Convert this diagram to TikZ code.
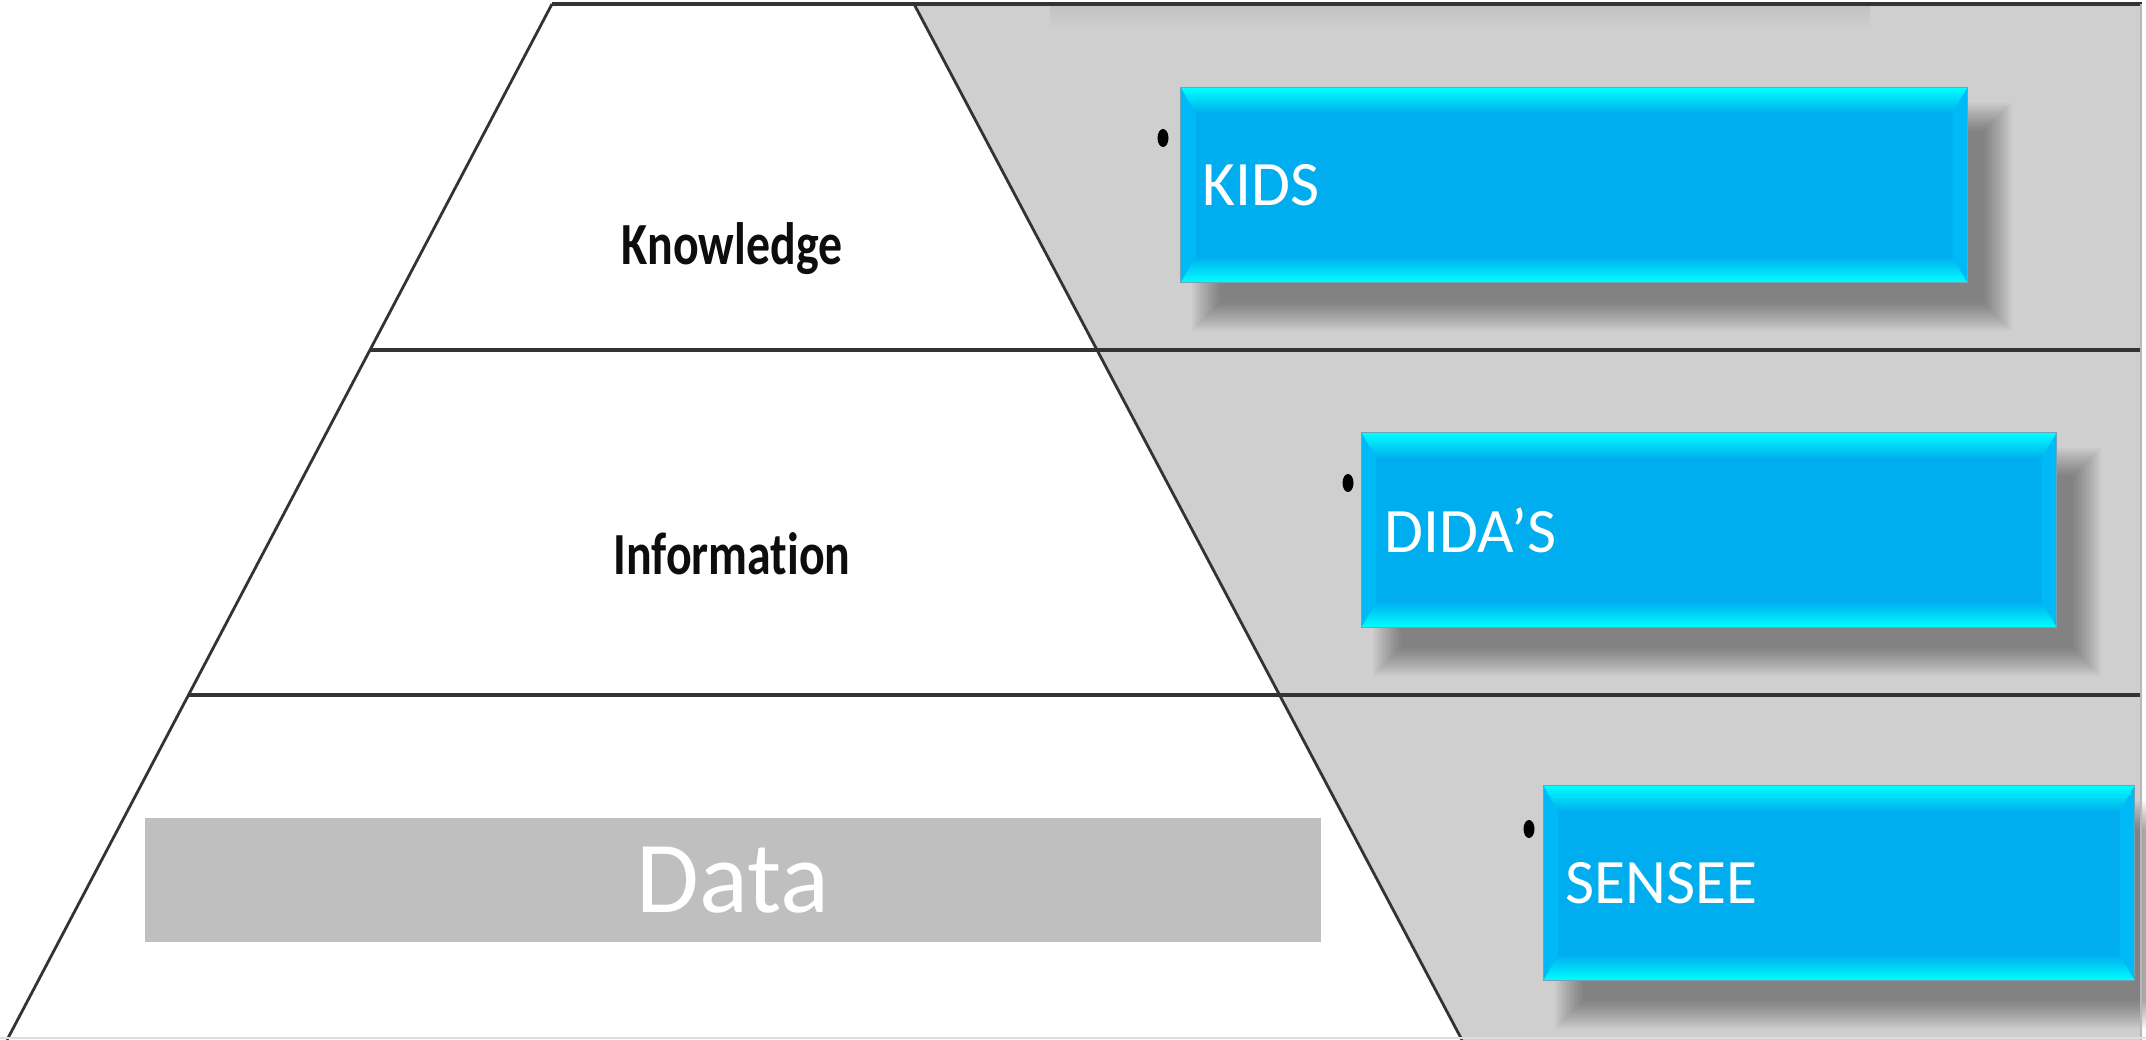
\documentclass[tikz,border=0pt]{standalone}
\usepackage{fontspec}
\setmainfont{Carlito}[Ligatures=NoCommon]
\usetikzlibrary{shapes.geometric, positioning, calc}
\definecolor{slabgray}{HTML}{CFCFCF}
\definecolor{datagray}{HTML}{BFBFBF}
\definecolor{edgegray}{HTML}{333333}
\definecolor{tagblue}{HTML}{00AEEF}
\definecolor{tagcyan}{HTML}{00FFFF}
\definecolor{tagside}{HTML}{00B9F7}
\pgfdeclarelayer{band}
\pgfdeclarelayer{shade}
\pgfsetlayers{band,shade,main}

\begin{document}
\begin{tikzpicture}[
  x=0.01cm, y=-0.01cm,
  edge/.style={draw=edgegray, line width=0.8pt},
  rule/.style={draw=edgegray, line width=1.1pt},
  tagbox/.style={rectangle, fill=tagblue, draw=gray!60!cyan, line width=0.3pt,
                 inner sep=0pt, minimum height=1.95cm,
                 path picture={
                   \coordinate (pNW) at (path picture bounding box.north west);
                   \coordinate (pNE) at (path picture bounding box.north east);
                   \coordinate (pSW) at (path picture bounding box.south west);
                   \coordinate (pSE) at (path picture bounding box.south east);
                   \fill[tagside] (pNW) -- ($(pNW)+(0.15cm,-0.26cm)$) -- ($(pSW)+(0.15cm,0.26cm)$) -- (pSW) -- cycle;
                   \fill[tagside] (pNE) -- ($(pNE)+(-0.15cm,-0.26cm)$) -- ($(pSE)+(-0.15cm,0.26cm)$) -- (pSE) -- cycle;
                   \shade[top color=tagcyan, middle color=tagcyan!45!tagblue, bottom color=tagblue]
                     (pNW) -- (pNE) -- ($(pNE)+(-0.15cm,-0.26cm)$) -- ($(pNW)+(0.15cm,-0.26cm)$) -- cycle;
                   \shade[bottom color=tagcyan, middle color=tagcyan!45!tagblue, top color=tagblue]
                     (pSW) -- (pSE) -- ($(pSE)+(-0.15cm,0.26cm)$) -- ($(pSW)+(0.15cm,0.26cm)$) -- cycle;
                 }},
  tagtext/.style={font=\fontsize{18}{20}\selectfont, text=white, inner sep=0pt},
  dot/.style={ellipse, fill=black, inner sep=0pt, minimum width=0.11cm, minimum height=0.18cm},
  level/.style={font=\bfseries\fontsize{17}{20}\selectfont, text=black!95, inner sep=0pt},
]
\useasboundingbox (0,0) rectangle (2146,1040);

% gray band behind the tags
\begin{pgfonlayer}{band}
\fill[slabgray] (914,4) -- (2142,4) -- (2142,1040) -- (1462,1040) -- cycle;
\shade[top color=black!24, bottom color=slabgray] (1050,6) rectangle (1870,28);
\end{pgfonlayer}

% pyramid outline and level rules
\draw[edge] (552,4) -- (7,1040);
\draw[edge] (914,4) -- (1462,1040);
\draw[rule] (552,4) -- (2142,4);
\draw[rule] (370,350) -- (2142,350);
\draw[rule] (188,695) -- (2142,695);
\draw[gray!55, line width=0.4pt] (2141,4) -- (2141,1040);
\draw[gray!25, line width=0.6pt] (0,1038) -- (2146,1038);

% pyramid levels
\node[level] (know) at (732,249) {\scalebox{0.8}[1]{Knowledge}};
\node[level] (info) at (732,554) {\scalebox{0.8}[1]{Information}};
\node[fill=datagray, minimum width=11.76cm, minimum height=1.24cm, inner sep=0pt,
      text=white, font=\fontsize{29}{32}\selectfont] (data) at (733,880) {Data};

% tags
\node[tagbox, minimum width=7.86cm] (kids)   at (1574,185) {};
\node[tagbox, minimum width=6.95cm] (didas)  at (1709,530) {};
\node[tagbox, minimum width=5.91cm] (sensee) at (1839,883) {};

\node[tagtext, right=0.22cm of kids.west]   (kids_t)   {KIDS};
\node[tagtext, right=0.23cm of didas.west]  (didas_t)  {DIDA’S};
\node[tagtext, right=0.22cm of sensee.west] (sensee_t) {SENSEE};

% soft drop shadows under the tags
\begin{pgfonlayer}{shade}
\foreach \tag in {kids, didas, sensee}
  \foreach \r in {0.16,0.14,...,-0.14}
    \fill[black, opacity=0.027]
      ($(\tag.north west)+(0.28cm,-0.32cm)+(-\r cm,\r cm)$) rectangle
      ($(\tag.south east)+(0.28cm,-0.32cm)+(\r cm,-\r cm)$);
\end{pgfonlayer}

% bullets
\node[dot] (kids_d)   at (1163,138) {};
\node[dot] (didas_d)  at (1348,483) {};
\node[dot] (sensee_d) at (1529,829) {};

\end{tikzpicture}
\end{document}
